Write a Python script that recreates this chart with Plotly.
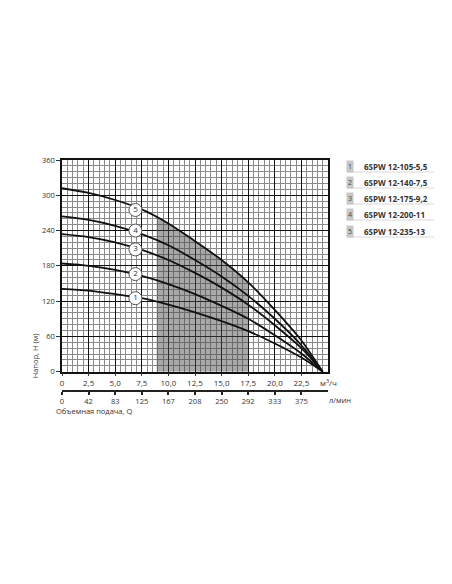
import plotly.graph_objects as go

# ---- data ----
flow_q = [0, 2.5, 5, 7.5, 10, 12.5, 15, 17.5, 20, 22.5, 24.5]          # m3/h
head_1 = [141, 138, 132, 125, 114, 101, 86, 69, 48, 24, 0]
head_2 = [184, 180, 173, 163, 149, 132, 112, 90, 62, 31, 0]
head_3 = [234, 229, 220, 207, 190, 168, 143, 114, 79, 40, 0]
head_4 = [264, 258, 248, 234, 215, 190, 162, 129, 90, 45, 0]
head_5 = [312, 304, 292, 276, 252, 222, 190, 152, 105, 53, 0]
heads = [head_1, head_2, head_3, head_4, head_5]

# recommended working range (shaded), bounded above by curve 5
shade_q = [8.9, 10, 12.5, 15, 17.5]
shade_h = [261, 252, 222, 190, 152]

# numbered curve labels
label_q = [6.9, 6.9, 6.9, 6.9, 6.9]
label_h = [125, 166, 208, 240, 275]
label_txt = ["1", "2", "3", "4", "5"]

models = ["6SPW 12-105-5,5", "6SPW 12-140-7,5", "6SPW 12-175-9,2",
          "6SPW 12-200-11", "6SPW 12-235-13"]

x_tickvals = [0, 2.5, 5, 7.5, 10, 12.5, 15, 17.5, 20, 22.5]
x_ticktext = ["0", "2,5", "5,0", "7,5", "10,0", "12,5", "15,0", "17,5", "20,0", "22,5"]
x2_ticktext = ["0", "42", "83", "125", "167", "208", "250", "292", "333", "375"]
y_tickvals = [0, 60, 120, 180, 240, 300, 360]

FONT = "Open Sans"
OFF = 8                      # page body margin added by the html page
W, H = 452 - 2 * OFF, 584 - 2 * OFF
# plot box in page pixels: x 61.7..328, y 160..371.7
ML = 61.7 - OFF
MR = W - (328 - OFF)
MT = 160 - OFF
MB = 170 - OFF               # paper bottom at page y = 584-170 = 414
PW = W - ML - MR
PH = H - MT - MB


def px_x(px):
    """page pixel x -> paper x"""
    return (px - OFF - ML) / PW


def px_y(py):
    """page pixel y -> paper y"""
    return (H - MB - (py - OFF)) / PH


fig = go.Figure()

# shaded working area
fig.add_trace(go.Scatter(
    x=shade_q, y=shade_h, mode="lines", line=dict(width=0, shape="spline"),
    fill="tozeroy", fillcolor="rgba(70,70,70,0.47)", hoverinfo="skip",
    showlegend=False))

for h in heads:
    fig.add_trace(go.Scatter(
        x=flow_q, y=h, mode="lines",
        line=dict(color="#111", width=1.8, shape="spline", smoothing=0.8),
        showlegend=False, hoverinfo="skip"))

fig.add_trace(go.Scatter(
    x=label_q, y=label_h, mode="markers+text", text=label_txt,
    textposition="middle center",
    textfont=dict(family=FONT, size=8, color="#333"),
    marker=dict(size=13, color="white", line=dict(color="#555", width=1)),
    showlegend=False, hoverinfo="skip"))

# invisible helper trace so the second (l/min) axis is drawn
fig.add_trace(go.Scatter(
    x=flow_q, y=head_1, xaxis="x2", mode="lines", opacity=0,
    line=dict(width=0), showlegend=False, hoverinfo="skip"))

y_dom0 = px_y(371.7)

fig.update_layout(
    width=W, height=H, autosize=False,
    margin=dict(l=ML, r=MR, t=MT, b=MB, pad=0),
    paper_bgcolor="white", plot_bgcolor="white",
    font=dict(family=FONT, size=8, color="#333"),
    xaxis=dict(
        range=[0, 25], tickmode="array", tickvals=x_tickvals, ticktext=x_ticktext,
        showgrid=True, gridcolor="#111", gridwidth=1.4,
        showline=True, linecolor="#111", linewidth=1.5, mirror=True,
        ticks="outside", ticklen=3, tickcolor="#333", zeroline=False,
        tickfont=dict(family=FONT, size=8, color="#333"),
        minor=dict(tickmode="linear", tick0=0, dtick=0.5, showgrid=True,
                   gridcolor="#8a8a8a", gridwidth=0.9, ticks=""),
        fixedrange=True,
    ),
    xaxis2=dict(
        range=[0, 25], overlaying="x", anchor="free", position=px_y(391),
        side="bottom", tickmode="array", tickvals=x_tickvals, ticktext=x2_ticktext,
        showgrid=False, zeroline=False,
        showline=True, linecolor="#222", linewidth=2,
        ticks="outside", ticklen=3, tickwidth=1.5, tickcolor="#222",
        tickfont=dict(family=FONT, size=7.5, color="#333"),
    ),
    yaxis=dict(
        range=[0, 360], domain=[y_dom0, 1], tickmode="array", tickvals=y_tickvals,
        showgrid=True, gridcolor="#111", gridwidth=1.4,
        showline=True, linecolor="#111", linewidth=1.5, mirror=True,
        ticks="outside", ticklen=4, tickcolor="#333", zeroline=False,
        tickfont=dict(family=FONT, size=7.5, color="#333"),
        minor=dict(tickmode="linear", tick0=0, dtick=10, showgrid=True,
                   gridcolor="#8a8a8a", gridwidth=0.9, ticks=""),
    ),
)

ann = []
ann.append(dict(x=px_x(329), y=px_y(382), xref="paper", yref="paper",
                text="м<sup>3</sup>/ч",
                showarrow=False, xanchor="center", yanchor="middle",
                font=dict(family=FONT, size=8, color="#333")))
ann.append(dict(x=px_x(340), y=px_y(400), xref="paper", yref="paper", text="л/мин",
                showarrow=False, xanchor="center", yanchor="middle",
                font=dict(family=FONT, size=7.5, color="#333")))
ann.append(dict(x=px_x(54), y=px_y(410.5), xref="paper", yref="paper",
                text="Объемная подача, Q", showarrow=False, xanchor="left",
                yanchor="middle", font=dict(family=FONT, size=7.5, color="#333")))
ann.append(dict(x=px_x(35), y=px_y(356), xref="paper", yref="paper",
                text="Напор, H (м)", showarrow=False, textangle=-90,
                xanchor="center", yanchor="middle",
                font=dict(family=FONT, size=7.5, color="#333")))

shapes = []
row_y = [166, 182, 198, 214, 231]
for i, (ry, name) in enumerate(zip(row_y, models)):
    ann.append(dict(x=px_x(350.5), y=px_y(ry), xref="paper", yref="paper",
                    text=str(i + 1), showarrow=False, xanchor="center",
                    yanchor="middle", bgcolor="#c8c8c8", borderpad=1,
                    font=dict(family=FONT, size=7, color="#444")))
    ann.append(dict(x=px_x(362), y=px_y(ry), xref="paper", yref="paper",
                    text="<b>" + name + "</b>", showarrow=False, xanchor="left",
                    yanchor="middle", font=dict(family=FONT, size=8, color="#333")))
    shapes.append(dict(type="line", xref="paper", yref="paper",
                       x0=px_x(347), x1=px_x(434), y0=px_y(ry + 6), y1=px_y(ry + 6),
                       line=dict(color="#d8d8d8", width=1)))

fig.update_layout(annotations=ann, shapes=shapes)

fig.write_html("out.html")
